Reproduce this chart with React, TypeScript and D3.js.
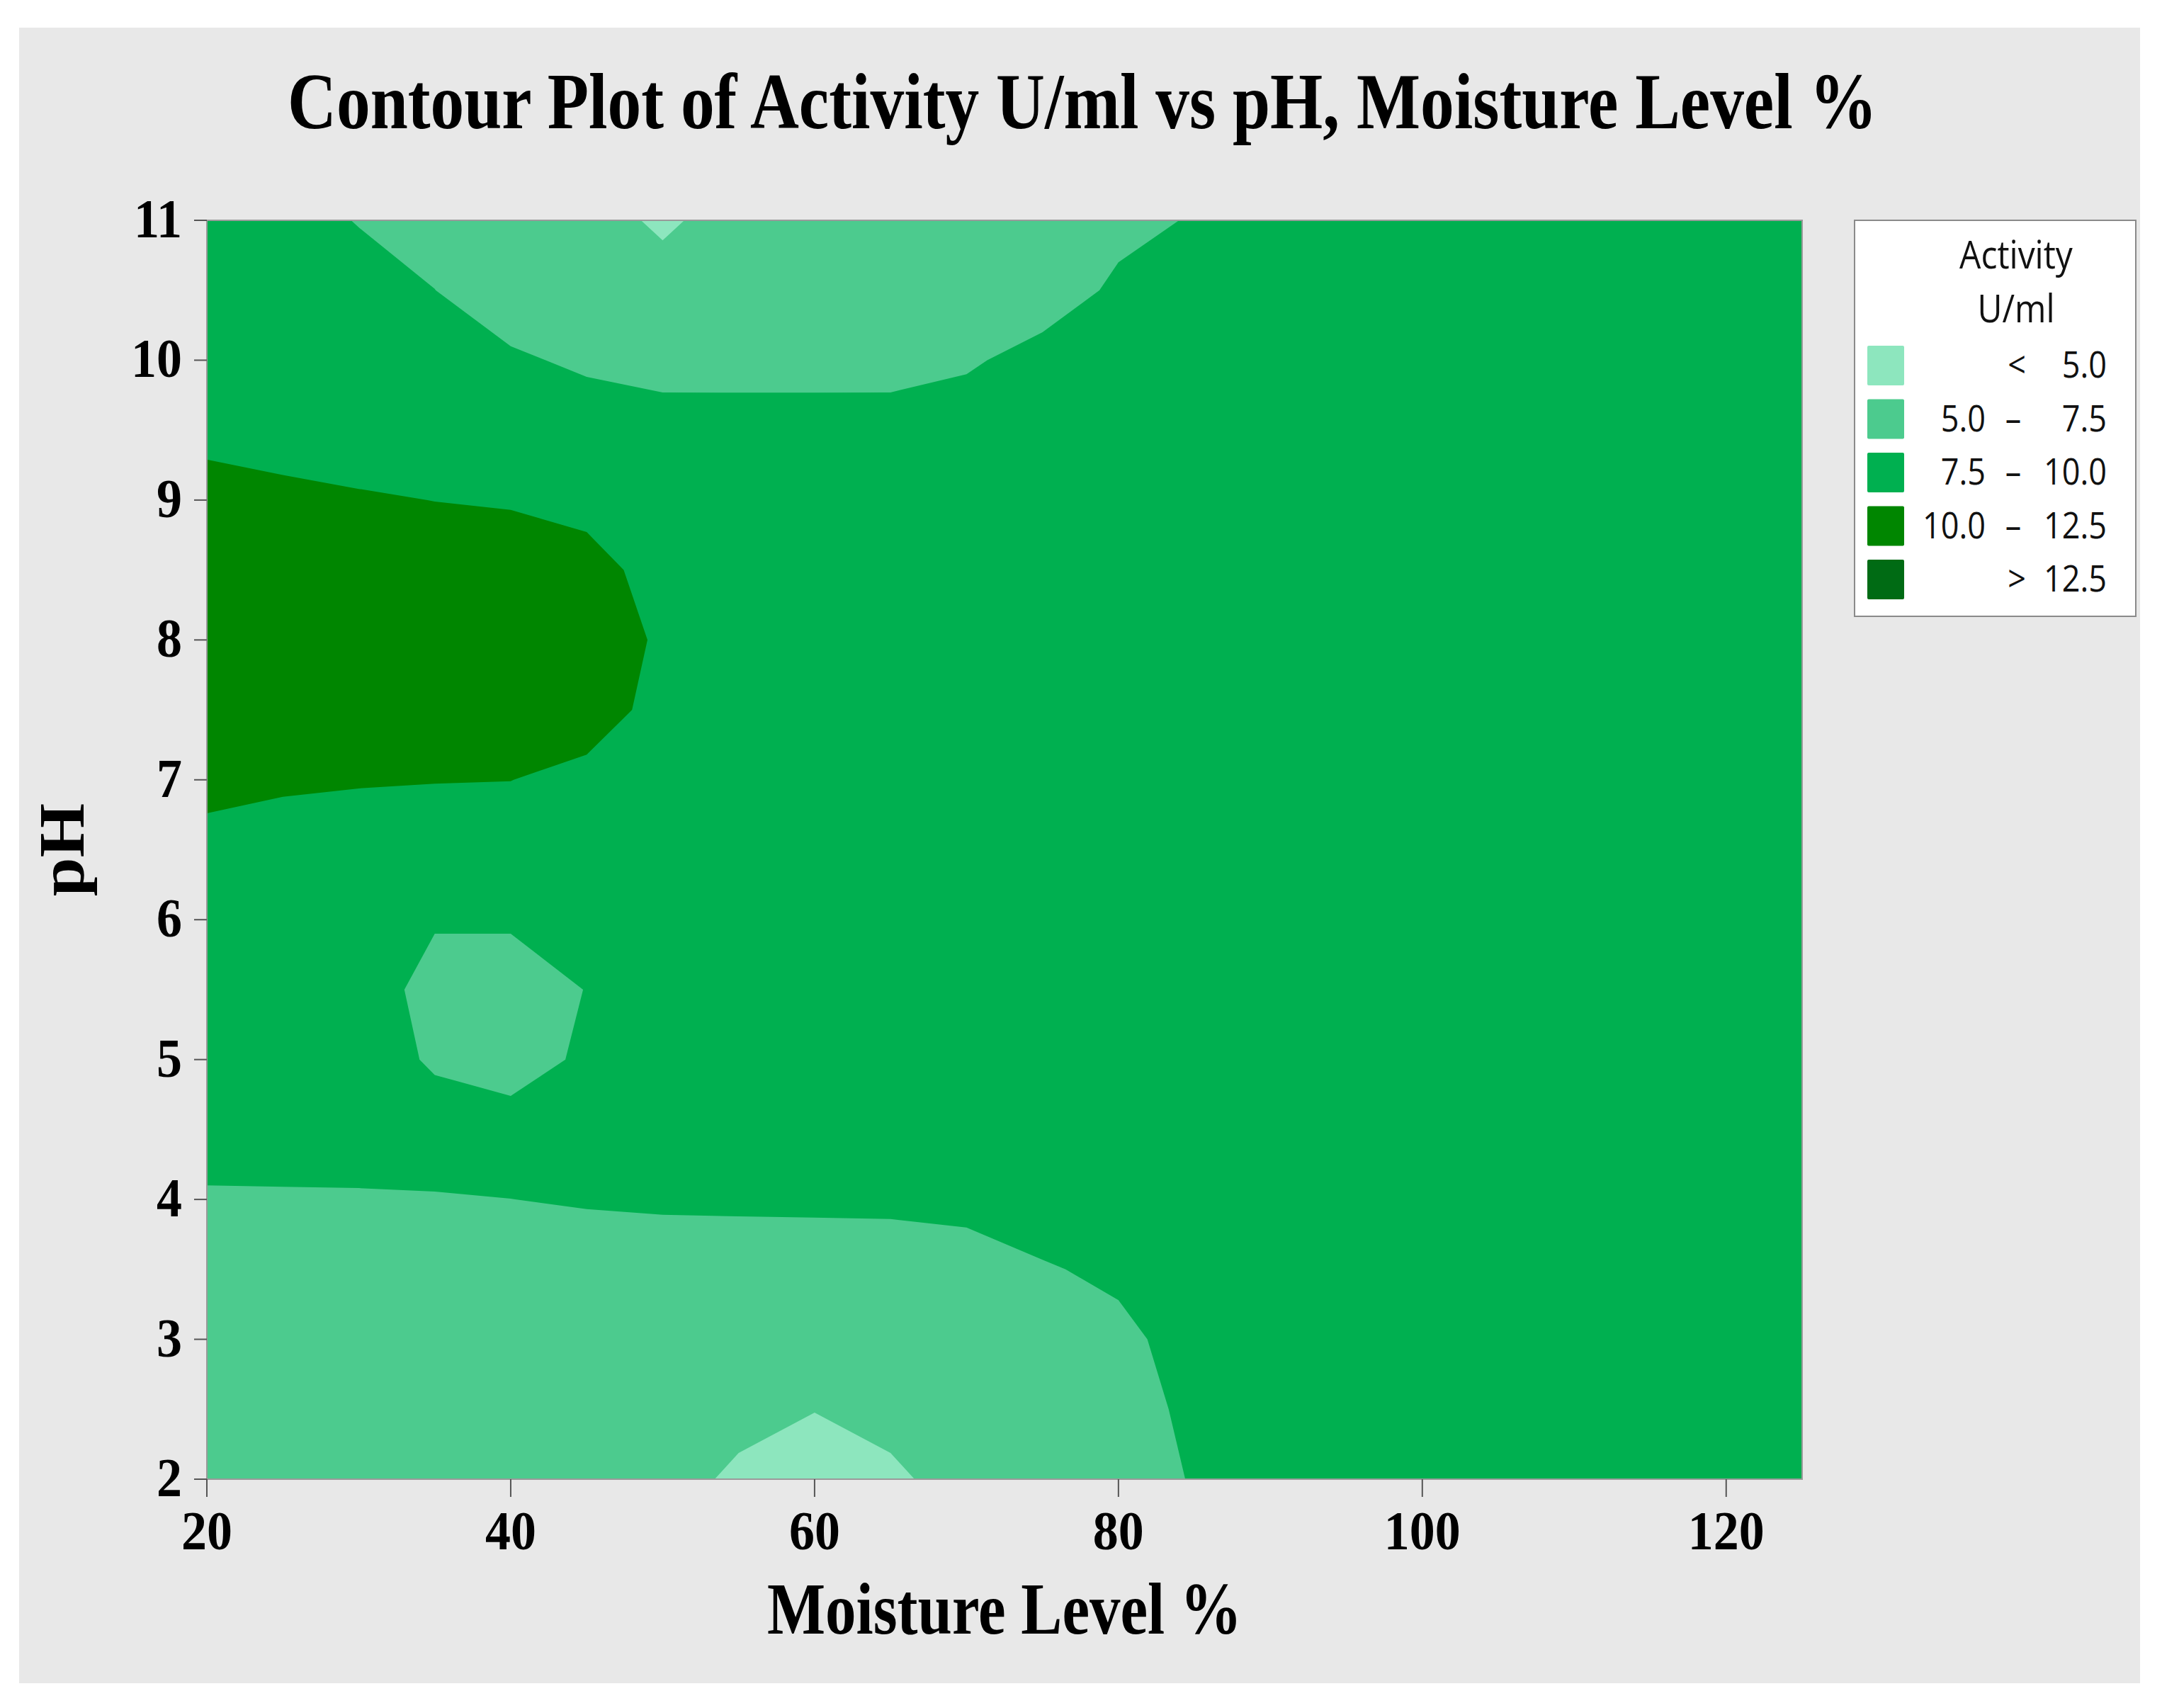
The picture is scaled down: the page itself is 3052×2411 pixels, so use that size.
import React from "react";
import * as d3 from "d3";

// Grid of Activity U/ml
const moisture = [20, 25, 30, 35, 40, 45, 50, 55, 60, 65, 70, 75, 80, 85, 90, 95, 100, 105, 110, 115, 120, 125];
const phRows = [11, 10.5, 10, 9.5, 9, 8.5, 8, 7.5, 7, 6.5, 6, 5.5, 5, 4.5, 4, 3.5, 3, 2.5, 2];

const act_ph11_0 = [9, 9, 7.33, 6.5, 6.0, 6.0, 4.6, 6.0, 6.2, 6.3, 6.6, 6.8, 6.75, 7.69, 9, 9, 9, 9, 9, 9, 9, 9];
const act_ph10_5 = [9, 9, 9.0, 7.52, 5.9, 6.2, 6.0, 6.0, 6.0, 6.1, 6.5, 6.0, 8.0, 8.5, 9, 9, 9, 9, 9, 9, 9, 9];
const act_ph10_0 = [9, 9, 9, 9, 7.9, 7.03, 6.22, 6.2, 6.2, 6.22, 7.125, 8.5, 9, 9, 9, 9, 9, 9, 9, 9, 9, 9];
const act_ph9_5 = [9, 9, 9, 9, 9, 9, 9, 9, 9, 9, 9, 9, 9, 9, 9, 9, 9, 9, 9, 9, 9, 9];
const act_ph9_0 = [11.38, 10.56, 10.19, 9.98, 9.8, 9.2, 9.0, 9, 9, 9, 9, 9, 9, 9, 9, 9, 9, 9, 9, 9, 9, 9];
const act_ph8_5 = [11.4, 11.2, 11.0, 10.9, 11.23, 10.95, 9.0, 9, 9, 9, 9, 9, 9, 9, 9, 9, 9, 9, 9, 9, 9, 9];
const act_ph8_0 = [11.4, 11.3, 11.2, 11.0, 11.0, 11.1, 9.725, 9, 9, 9, 9, 9, 9, 9, 9, 9, 9, 9, 9, 9, 9, 9];
const act_ph7_5 = [11.2, 11.0, 10.9, 10.8, 10.8, 10.89, 9.4, 9, 9, 9, 9, 9, 9, 9, 9, 9, 9, 9, 9, 9, 9, 9];
const act_ph7_0 = [10.92, 10.32, 10.14, 10.06, 10.02, 9.5, 9.0, 9, 9, 9, 9, 9, 9, 9, 9, 9, 9, 9, 9, 9, 9, 9];
const act_ph6_5 = [9, 9, 9, 9, 9, 9, 9, 9, 9, 9, 9, 9, 9, 9, 9, 9, 9, 9, 9, 9, 9, 9];
const act_ph6_0 = [9, 9, 9, 7.75, 7.75, 9, 9, 9, 9, 9, 9, 9, 9, 9, 9, 9, 9, 9, 9, 9, 9, 9];
const act_ph5_5 = [9, 9, 9, 6.5, 6.5, 7.55, 9, 9, 9, 9, 9, 9, 9, 9, 9, 9, 9, 9, 9, 9, 9, 9];
const act_ph5_0 = [9, 9, 9, 7.125, 6.5, 7.89, 9, 9, 9, 9, 9, 9, 9, 9, 9, 9, 9, 9, 9, 9, 9, 9];
const act_ph4_5 = [9, 9, 9, 8.83, 8.42, 9, 9, 9, 9, 9, 9, 9, 9, 9, 9, 9, 9, 9, 9, 9, 9, 9];
const act_ph4_0 = [7.125, 7.17, 7.21, 7.33, 7.49, 7.66, 7.78, 7.82, 7.85, 7.89, 8.17, 9, 9, 9, 9, 9, 9, 9, 9, 9, 9, 9];
const act_ph3_5 = [6.5, 6.5, 6.5, 6.5, 6.5, 6.5, 6.5, 6.5, 6.5, 6.5, 6.5, 7.26, 8.05, 9, 9, 9, 9, 9, 9, 9, 9, 9];
const act_ph3_0 = [6.3, 6.3, 6.3, 6.3, 6.3, 6.3, 6.3, 6.3, 6.3, 6.3, 6.3, 6.6, 6.8, 8.64, 9, 9, 9, 9, 9, 9, 9, 9];
const act_ph2_5 = [6.3, 6.3, 6.3, 6.3, 6.3, 6.3, 6.3, 6.0, 5.05, 6.0, 6.3, 6.6, 6.7, 7.91, 9, 9, 9, 9, 9, 9, 9, 9];
const act_ph2_0 = [6.3, 6.3, 6.3, 6.3, 6.3, 6.3, 6.3, 4.4, 4.0, 4.4, 6.3, 6.6, 6.7, 7.61, 9, 9, 9, 9, 9, 9, 9, 9];

const activityRows = [
  act_ph11_0, act_ph10_5, act_ph10_0, act_ph9_5, act_ph9_0, act_ph8_5, act_ph8_0, act_ph7_5,
  act_ph7_0, act_ph6_5, act_ph6_0, act_ph5_5, act_ph5_0, act_ph4_5, act_ph4_0, act_ph3_5,
  act_ph3_0, act_ph2_5, act_ph2_0,
];

const thresholds = [5, 7.5, 10, 12.5];
const bandColors = ["#8de6be", "#4ccb8e", "#00b050", "#008600", "#006b14"];
const legendLow = ["", "5.0", "7.5", "10.0", ""];
const legendSep = ["<", "\u2013", "\u2013", "\u2013", ">"];
const legendHigh = ["5.0", "7.5", "10.0", "12.5", "12.5"];

const xTicks = [20, 40, 60, 80, 100, 120];
const yTicks = [2, 3, 4, 5, 6, 7, 8, 9, 10, 11];

const SERIF = "'Liberation Serif', 'Times New Roman', serif";
const SANS = "'Open Sans', 'Noto Sans', sans-serif";

export default function App() {
  const W = 3052;
  const H = 2411;
  const plot = { left: 292, right: 2544, top: 311, bottom: 2088 };
  const x = d3.scaleLinear().domain([20, 125]).range([plot.left, plot.right]);
  const y = d3.scaleLinear().domain([2, 11]).range([plot.bottom, plot.top]);

  const nx = moisture.length;
  const ny = phRows.length;
  const values = activityRows.flat();
  const gx = d3.scaleLinear().domain([0.5, nx - 0.5]).range([x(moisture[0]), x(moisture[nx - 1])]);
  const gy = d3.scaleLinear().domain([0.5, ny - 0.5]).range([y(phRows[0]), y(phRows[ny - 1])]);
  const bands = d3.contours().size([nx, ny]).thresholds(thresholds)(values);
  const proj = d3.geoTransform({
    point: function (px: number, py: number) {
      (this as any).stream.point(gx(px), gy(py));
    },
  });
  const path = d3.geoPath(proj as any);

  const legend = { x: 2618, y: 311, w: 397, h: 559 };
  const rowY = (i: number) => 516 + i * 75.5;

  return (
    <svg
      width={W}
      height={H}
      style={{ position: "absolute", left: 0, top: 0, background: "#ffffff" }}
    >
      <rect x={0} y={0} width={W} height={H} fill="#ffffff" />
      <rect x={27} y={39} width={2994} height={2337} fill="#e8e8e8" />

      {/* Title */}
      <text
        transform={`translate(${(plot.left + plot.right) / 2 + 110}, 181) scale(1, 1.17)`}
        textAnchor="middle"
        fontFamily={SERIF}
        fontWeight="bold"
        fontSize={95}
        textLength={2244}
        lengthAdjust="spacingAndGlyphs"
        fill="#000"
      >
        Contour Plot of Activity U/ml vs pH, Moisture Level %
      </text>

      <defs>
        <clipPath id="plotClip">
          <rect x={plot.left} y={plot.top} width={plot.right - plot.left} height={plot.bottom - plot.top} />
        </clipPath>
      </defs>

      <g clipPath="url(#plotClip)">
        <rect
          x={plot.left}
          y={plot.top}
          width={plot.right - plot.left}
          height={plot.bottom - plot.top}
          fill={bandColors[0]}
        />
        {bands.map((b, i) => (
          <path key={i} d={path(b as any) || ""} fill={bandColors[i + 1]} stroke="none" />
        ))}
      </g>
      <rect
        x={plot.left}
        y={plot.top}
        width={plot.right - plot.left}
        height={plot.bottom - plot.top}
        fill="none"
        stroke="#9a9a9a"
        strokeWidth={2}
      />

      {/* Y axis */}
      {yTicks.map((t) => (
        <g key={"y" + t}>
          <line x1={plot.left - 18} x2={plot.left} y1={y(t)} y2={y(t)} stroke="#555" strokeWidth={2} />
          <text
            transform={`translate(257, ${y(t) + 24}) scale(1, 1.1)`}
            textAnchor="end"
            fontFamily={SERIF}
            fontWeight="bold"
            fontSize={72}
            fill="#000"
          >
            {t}
          </text>
        </g>
      ))}

      {/* X axis */}
      {xTicks.map((t) => (
        <g key={"x" + t}>
          <line x1={x(t)} x2={x(t)} y1={plot.bottom} y2={plot.bottom + 25} stroke="#555" strokeWidth={2} />
          <text
            transform={`translate(${x(t)}, 2187) scale(1, 1.1)`}
            textAnchor="middle"
            fontFamily={SERIF}
            fontWeight="bold"
            fontSize={72}
            fill="#000"
          >
            {t}
          </text>
        </g>
      ))}

      <text
        transform={`translate(${(plot.left + plot.right) / 2}, 2306) scale(1, 1.18)`}
        textAnchor="middle"
        fontFamily={SERIF}
        fontWeight="bold"
        fontSize={87}
        fill="#000"
      >
        Moisture Level %
      </text>

      <text
        transform={`translate(118, ${(plot.top + plot.bottom) / 2}) rotate(-90) scale(1.07, 1)`}
        textAnchor="middle"
        fontFamily={SERIF}
        fontWeight="bold"
        fontSize={92}
        fill="#000"
      >
        pH
      </text>

      {/* Legend */}
      <rect x={legend.x} y={legend.y} width={legend.w} height={legend.h} fill="#ffffff" stroke="#8a8a8a" strokeWidth={2} />
      <text
        transform={`translate(2846, 379) scale(1, 1.13)`}
        textAnchor="middle"
        fontFamily={SANS}
        fontSize={48}
        fill="#111"
      >
        Activity
      </text>
      <text
        transform={`translate(2846, 455) scale(1, 1.13)`}
        textAnchor="middle"
        fontFamily={SANS}
        fontSize={48}
        fill="#111"
      >
        U/ml
      </text>
      {bandColors.map((c, i) => (
        <g key={"lg" + i}>
          <rect x={2636} y={rowY(i) - 28} width={52} height={56} fill={c} rx={2} />
          {legendLow[i] !== "" && (
            <text
              transform={`translate(2803, ${rowY(i) + 17}) scale(1, 1.13)`}
              textAnchor="end"
              fontFamily={SANS}
              fontSize={45}
              fill="#111"
            >
              {legendLow[i]}
            </text>
          )}
          <text
            transform={`translate(${legendLow[i] !== "" ? 2842 : 2847}, ${rowY(i) + 17}) scale(1, 1.13)`}
            textAnchor="middle"
            fontFamily={SANS}
            fontSize={45}
            fill="#111"
          >
            {legendSep[i]}
          </text>
          <text
            transform={`translate(2974, ${rowY(i) + 17}) scale(1, 1.13)`}
            textAnchor="end"
            fontFamily={SANS}
            fontSize={45}
            fill="#111"
          >
            {legendHigh[i]}
          </text>
        </g>
      ))}
    </svg>
  );
}
